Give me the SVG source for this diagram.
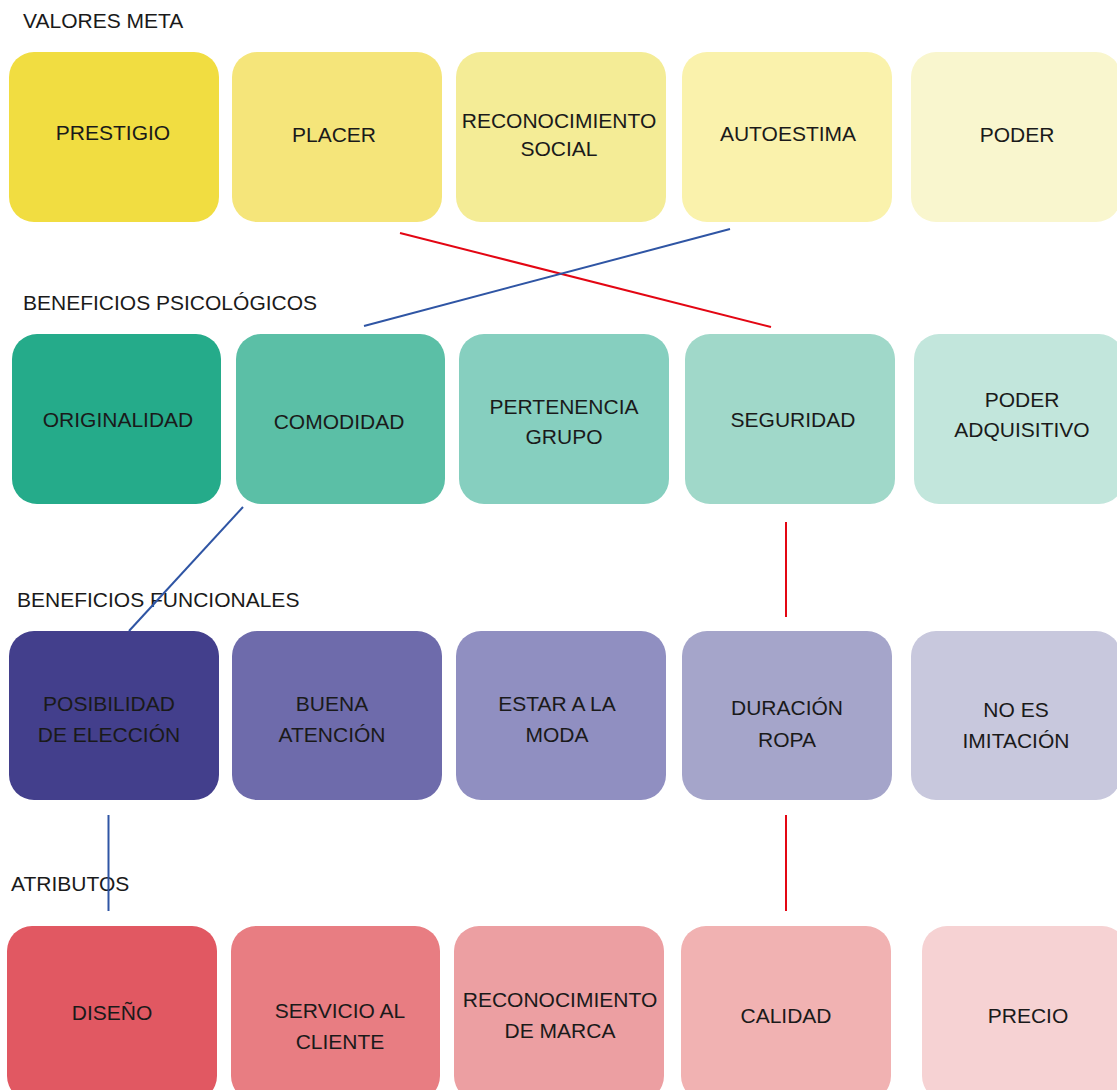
<svg xmlns="http://www.w3.org/2000/svg" width="1117" height="1090" viewBox="0 0 1117 1090">
<style>
  .t{font-family:"Liberation Sans",Arial,sans-serif;font-size:21px;fill:#1a1a1a;text-anchor:middle}
  .h{font-family:"Liberation Sans",Arial,sans-serif;font-size:21px;fill:#1a1a1a}
  .r{stroke:#E30613;stroke-width:2;fill:none}
  .b{stroke:#2F55A4;stroke-width:2;fill:none}
</style>
<rect width="1117" height="1090" fill="#ffffff"/>
<g id="headings">
  <text class="h" x="23" y="28">VALORES META</text>
  <text class="h" x="23" y="310">BENEFICIOS PSICOLÓGICOS</text>
  <text class="h" x="17" y="607">BENEFICIOS FUNCIONALES</text>
  <text class="h" x="11" y="891">ATRIBUTOS</text>
</g>
<g id="n-prestigio"><rect x="9" y="52" width="210" height="170" rx="25" fill="#F1DD41"/><text class="t" x="113" y="140">PRESTIGIO</text></g>
<g id="n-placer"><rect x="232" y="52" width="210" height="170" rx="25" fill="#F5E57A"/><text class="t" x="334" y="142">PLACER</text></g>
<g id="n-reconocimiento-social"><rect x="456" y="52" width="210" height="170" rx="25" fill="#F4EC96"/><text class="t" x="559" y="128">RECONOCIMIENTO</text><text class="t" x="559" y="156">SOCIAL</text></g>
<g id="n-autoestima"><rect x="682" y="52" width="210" height="170" rx="25" fill="#FAF2AC"/><text class="t" x="788" y="141">AUTOESTIMA</text></g>
<g id="n-poder"><rect x="911" y="52" width="210" height="170" rx="25" fill="#F9F6CE"/><text class="t" x="1017" y="142">PODER</text></g>

<g id="n-originalidad"><rect x="12" y="334" width="209" height="170" rx="25" fill="#25AB8A"/><text class="t" x="118" y="427">ORIGINALIDAD</text></g>
<g id="n-comodidad"><rect x="236" y="334" width="209" height="170" rx="25" fill="#5BBFA6"/><text class="t" x="339" y="429">COMODIDAD</text></g>
<g id="n-pertenencia"><rect x="459" y="334" width="210" height="170" rx="25" fill="#86CFBF"/><text class="t" x="564" y="414">PERTENENCIA</text><text class="t" x="564" y="444">GRUPO</text></g>
<g id="n-seguridad"><rect x="685" y="334" width="210" height="170" rx="25" fill="#A0D8C9"/><text class="t" x="793" y="427">SEGURIDAD</text></g>
<g id="n-poder-adquisitivo"><rect x="914" y="334" width="210" height="170" rx="25" fill="#C2E6DC"/><text class="t" x="1022" y="407">PODER</text><text class="t" x="1022" y="437">ADQUISITIVO</text></g>

<g id="n-posibilidad"><rect x="9" y="631" width="210" height="169" rx="25" fill="#433F8C"/><text class="t" x="109" y="711">POSIBILIDAD</text><text class="t" x="109" y="742">DE ELECCIÓN</text></g>
<g id="n-buena-atencion"><rect x="232" y="631" width="210" height="169" rx="25" fill="#6E6BAB"/><text class="t" x="332" y="711">BUENA</text><text class="t" x="332" y="742">ATENCIÓN</text></g>
<g id="n-estar-moda"><rect x="456" y="631" width="210" height="169" rx="25" fill="#908FC1"/><text class="t" x="557" y="711">ESTAR A LA</text><text class="t" x="557" y="742">MODA</text></g>
<g id="n-duracion"><rect x="682" y="631" width="210" height="169" rx="25" fill="#A5A5CA"/><text class="t" x="787" y="715">DURACIÓN</text><text class="t" x="787" y="747">ROPA</text></g>
<g id="n-no-es-imitacion"><rect x="911" y="631" width="210" height="169" rx="25" fill="#C8C8DD"/><text class="t" x="1016" y="717">NO ES</text><text class="t" x="1016" y="748">IMITACIÓN</text></g>

<g id="n-diseno"><rect x="7" y="926" width="210" height="175" rx="25" fill="#E15862"/><text class="t" x="112" y="1020">DISEÑO</text></g>
<g id="n-servicio"><rect x="231" y="926" width="209" height="175" rx="25" fill="#E87D82"/><text class="t" x="340" y="1018">SERVICIO AL</text><text class="t" x="340" y="1049">CLIENTE</text></g>
<g id="n-reconocimiento-marca"><rect x="454" y="926" width="210" height="175" rx="25" fill="#EC9FA2"/><text class="t" x="560" y="1007">RECONOCIMIENTO</text><text class="t" x="560" y="1038">DE MARCA</text></g>
<g id="n-calidad"><rect x="681" y="926" width="210" height="175" rx="25" fill="#F1B2B2"/><text class="t" x="786" y="1023">CALIDAD</text></g>
<g id="n-precio"><rect x="922" y="926" width="205" height="175" rx="25" fill="#F6D2D3"/><text class="t" x="1028" y="1023">PRECIO</text></g>

<g id="connectors">
  <line class="r" x1="400" y1="233" x2="771" y2="327"/>
  <line class="b" x1="730" y1="229" x2="364" y2="326"/>
  <line class="b" x1="243" y1="507" x2="129" y2="631"/>
  <line class="r" x1="786" y1="522" x2="786" y2="617"/>
  <line class="b" x1="108.5" y1="815" x2="108.5" y2="911"/>
  <line class="r" x1="786" y1="815" x2="786" y2="911"/>
</g>
</svg>
